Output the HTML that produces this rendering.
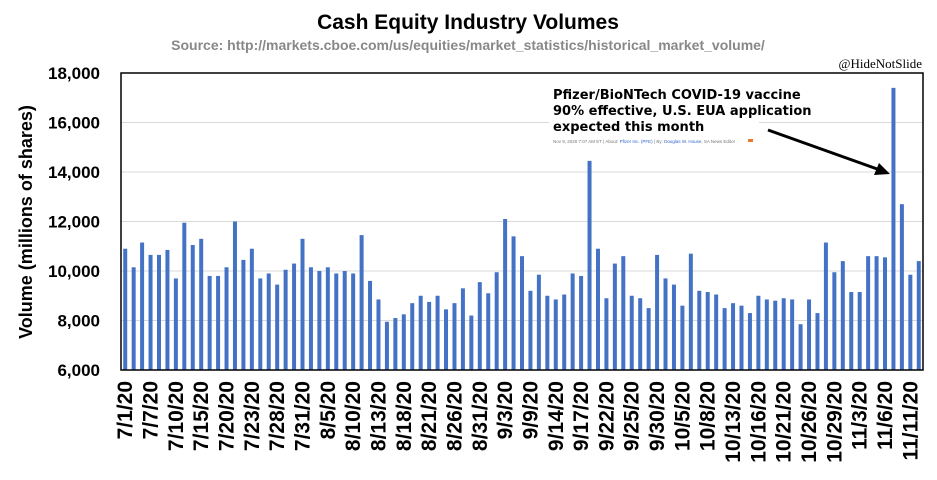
<!DOCTYPE html>
<html><head><meta charset="utf-8"><style>
body{margin:0;background:#fff;width:937px;height:475px;overflow:hidden;font-family:"Liberation Sans",sans-serif}
</style></head><body>
<svg width="937" height="475" font-family="Liberation Sans, sans-serif">
<text x="468" y="29" text-anchor="middle" font-size="21" font-weight="bold">Cash Equity Industry Volumes</text>
<text x="468" y="50" text-anchor="middle" font-size="14" font-weight="bold" fill="#888">Source: http://markets.cboe.com/us/equities/market_statistics/historical_market_volume/</text>
<text x="922" y="68" text-anchor="end" font-size="13" font-family="Liberation Serif, serif">@HideNotSlide</text>
<g id="grid"></g>
<g id="bars"></g>
<rect x="121" y="73" width="802" height="297" fill="none" stroke="#000" stroke-width="1.5"/>
<g id="yticks"></g>
<g id="xticks"></g>
<text transform="translate(32,222) rotate(-90)" text-anchor="middle" font-size="18" font-weight="bold">Volume (millions of shares)</text>
<g>
<rect x="549" y="84" width="210" height="62" fill="#fff"/>
<text x="553" y="99" font-size="13" font-weight="bold" font-family="DejaVu Sans, sans-serif"><tspan x="553">Pfizer/BioNTech COVID-19 vaccine</tspan><tspan x="553" dy="16">90% effective, U.S. EUA application</tspan><tspan x="553" dy="16">expected this month</tspan></text>
<text x="553" y="143" font-size="4.5" fill="#777">Nov 9, 2020 7:07 AM ET | About: <tspan fill="#36c">Pfizer Inc. (PFE)</tspan> | By: <tspan fill="#36c">Douglas W. House</tspan>, SA News Editor</text>
<rect x="748" y="139" width="5" height="3" fill="#e87a2a"/>
<line x1="768" y1="130" x2="880" y2="170" stroke="#000" stroke-width="3"/>
<polygon points="890,174 874,175 879,163" fill="#000"/>
</g>
</svg>
<script>
const dates=["7/1/20","7/2/20","7/6/20","7/7/20","7/8/20","7/9/20","7/10/20","7/13/20","7/14/20","7/15/20","7/16/20","7/17/20","7/20/20","7/21/20","7/22/20","7/23/20","7/24/20","7/27/20","7/28/20","7/29/20","7/30/20","7/31/20",
"8/3/20","8/4/20","8/5/20","8/6/20","8/7/20","8/10/20","8/11/20","8/12/20","8/13/20","8/14/20","8/17/20","8/18/20","8/19/20","8/20/20","8/21/20","8/24/20","8/25/20","8/26/20","8/27/20","8/28/20","8/31/20",
"9/1/20","9/2/20","9/3/20","9/4/20","9/8/20","9/9/20","9/10/20","9/11/20","9/14/20","9/15/20","9/16/20","9/17/20","9/18/20","9/21/20","9/22/20","9/23/20","9/24/20","9/25/20","9/28/20","9/29/20","9/30/20",
"10/1/20","10/2/20","10/5/20","10/6/20","10/7/20","10/8/20","10/9/20","10/12/20","10/13/20","10/14/20","10/15/20","10/16/20","10/19/20","10/20/20","10/21/20","10/22/20","10/23/20","10/26/20","10/27/20","10/28/20","10/29/20","10/30/20",
"11/2/20","11/3/20","11/4/20","11/5/20","11/6/20","11/9/20","11/10/20","11/11/20","11/12/20"];
const volumes=[10900,10150,11150,10650,10650,10850,9700,11950,11050,11300,9800,9800,10150,12000,10450,10900,9700,9900,9450,10050,10300,11300,
10150,10000,10150,9900,10000,9900,11450,9600,8850,7950,8100,8250,8700,9000,8750,9000,8450,8700,9300,8200,9550,
9100,9950,12100,11400,10600,9200,9850,9000,8850,9050,9900,9800,14450,10900,8900,10300,10600,9000,8900,8500,10650,
9700,9450,8600,10700,9200,9150,9050,8500,8700,8600,8300,9000,8850,8800,8900,8850,7850,8850,8300,11150,9950,10400,
9150,9150,10600,10600,10550,17400,12700,9850,10400];
const yTicks=[6000,8000,10000,12000,14000,16000,18000];
const NS="http://www.w3.org/2000/svg";
const X0=121,X1=923,Y0=370,Y1=73,YMIN=6000,YMAX=18000;
const step=(X1-X0)/dates.length;
const y=v=>Y0-(v-YMIN)/(YMAX-YMIN)*(Y0-Y1);
const x=i=>X0+step*(i+0.5);
function mk(t,a,p){const e=document.createElementNS(NS,t);for(const k in a)e.setAttribute(k,a[k]);p.appendChild(e);return e;}
const G=document.getElementById("grid"),B=document.getElementById("bars"),YT=document.getElementById("yticks"),XT=document.getElementById("xticks");
yTicks.forEach(v=>{
 if(v>YMIN&&v<YMAX){const l=mk("line",{x1:X0,x2:X1,y1:y(v),y2:y(v),stroke:"#d9d9d9","stroke-width":1},G);
 
 }
 const t=mk("text",{x:100,y:y(v)+6,"text-anchor":"end","font-size":17,"font-weight":"bold"},YT);
 t.textContent=v.toLocaleString("en-US");
 
 
});
volumes.forEach((v,i)=>{
 const r=mk("rect",{x:x(i)-2,y:y(v),width:4,height:Y0-y(v),fill:"#4472c4"},B);
 
 
});
dates.forEach((d,i)=>{
 if(i%3!==0)return;
 const t=mk("text",{transform:`translate(${x(i)+7},381) rotate(-90)`,"text-anchor":"end","font-size":21,"font-weight":"bold"},XT);
 t.textContent=d;
 
 
});
</script>
</body></html>
